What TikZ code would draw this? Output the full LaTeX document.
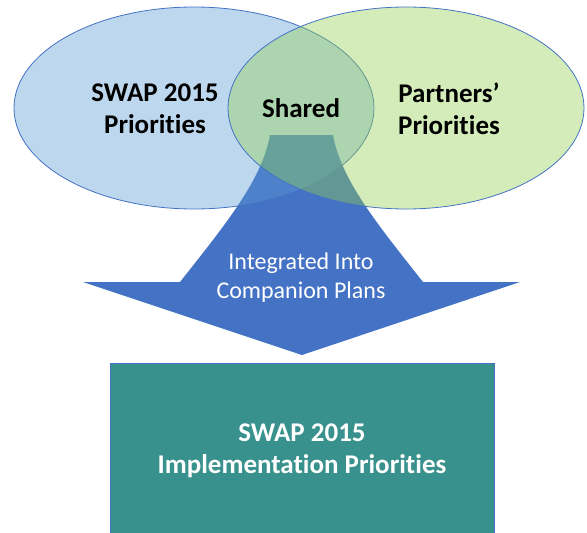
\documentclass[tikz,border=0pt]{standalone}
\usepackage{fontspec}
\setmainfont{Carlito}[Ligatures=NoCommon]
\usepackage{tikz}
\usetikzlibrary{shapes.geometric}
\definecolor{venna}{HTML}{5B9BD5}
\definecolor{vennb}{HTML}{92D050}
\definecolor{edgeblue}{HTML}{4472C4}
\definecolor{planteal}{HTML}{38918C}
\tikzstyle{blob} = [ellipse, draw=edgeblue, line width=0.8pt, minimum width=360pt, minimum height=202pt, fill opacity=0.4]
\tikzstyle{title} = [text centered, align=center, font=\bfseries\fontsize{27}{32}\selectfont]
\tikzstyle{note} = [text centered, align=center, text=white, font=\fontsize{24}{29}\selectfont]
\tikzset{plan/.style = {
    rectangle, draw=edgeblue, fill=planteal, line width=0.8pt,
    minimum width=384pt, minimum height=175pt, anchor=north
  }
}

\begin{document}
\begin{tikzpicture}[x=1pt, y=-1pt]
            \useasboundingbox (0,0) rectangle (587,533);
            % block arrow
            \coordinate (tl) at (270,135);
            \coordinate (tr) at (333,135);
            \coordinate (wl) at (83,282);
            \coordinate (wr) at (520,282);
            \coordinate (tip) at (302,355);
            \fill[edgeblue] (tl) -- (tr) .. controls (341,180) and (378,225) .. (423,282)
              -- (wr) -- (tip) -- (wl) -- (180,282) .. controls (225,225) and (262,180) .. (tl) -- cycle;

            % vertices
            \node[blob, fill=venna, text opacity=1] (left) at (194,108) {};
            \node[blob, fill=vennb, text opacity=1, minimum width=356pt] (right) at (406,108) {};
            \node[title] (swap) at (155,109) {SWAP 2015\\Priorities};
            \node[title] (partners) at (449,109) {Partners’\\Priorities};
            \node[title] (shared) at (301,108) {Shared};
            \node[note] (integ) at (301,278) {Integrated Into\\Companion Plans};
            \node[plan] (impl) at (302,363) {};
            \node[title, text=white] (implt) at (302,451) {SWAP 2015\\Implementation Priorities};
          \end{tikzpicture}
\end{document}
